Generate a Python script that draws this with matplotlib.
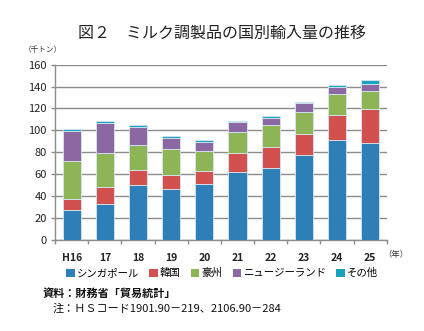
import numpy as np
import matplotlib
matplotlib.use("Agg")
import matplotlib.pyplot as plt
from matplotlib.patches import Patch

plt.rcParams['font.family'] = ['Noto Sans CJK JP', 'DejaVu Sans']

years = ["H16", "17", "18", "19", "20", "21", "22", "23", "24", "25"]
singapore = [27.3, 33.4, 50.1, 46.4, 51.6, 61.9, 66.2, 77.7, 91.7, 88.6]
korea = [10.3, 14.9, 14.3, 13.1, 11.5, 17.6, 18.8, 19.1, 22.4, 31.0]
australia = [34.7, 31.5, 22.1, 23.4, 18.3, 19.5, 19.7, 20.4, 19.2, 16.1]
new_zealand = [27.0, 27.1, 16.4, 10.3, 8.5, 8.5, 7.0, 7.9, 6.3, 6.4]
others = [2.1, 2.1, 2.4, 2.1, 1.5, 1.2, 1.2, 0.6, 1.6, 4.2]

series = [
    ("シンガポール", singapore, "#2E7EB7"),
    ("韓国", korea, "#D2504E"),
    ("豪州", australia, "#8DB555"),
    ("ニュージーランド", new_zealand, "#8C68A3"),
    ("その他", others, "#18A3BD"),
]

fig = plt.figure(figsize=(4.24, 3.31), dpi=100)
ax = fig.add_axes([0.130, 0.274, 0.782, 0.531])

x = np.arange(len(years))
bottom = np.zeros(len(years))
for name, vals, color in series:
    ax.bar(x, vals, bottom=bottom, width=0.55, color=color,
           edgecolor="#D6E6F2", linewidth=0.6, zorder=3)
    bottom += np.array(vals)

ax.set_xlim(-0.5, len(years) - 0.5)
ax.set_ylim(0, 160)
ax.set_yticks(range(0, 161, 20))
ax.grid(axis='y', color="#8C8C8C", linewidth=1.0, zorder=0)

for s in ['top', 'right']:
    ax.spines[s].set_visible(False)
for s in ['left', 'bottom']:
    ax.spines[s].set_color("#8C8C8C")
    ax.spines[s].set_linewidth(1.0)

ax.set_xticks(x)
ax.set_xticklabels(years, fontsize=7.5, fontweight='bold', color="#222222")
ax.tick_params(axis='x', which='major', length=0, pad=9)
ax.set_xticks(np.arange(-0.5, len(years)), minor=True)
ax.tick_params(axis='x', which='minor', length=3, color="#8C8C8C", width=1)
ax.tick_params(axis='y', length=3, color="#8C8C8C", width=1, labelsize=8, pad=3,
               labelcolor="#222222")

fig.text(0.524, 0.898, "図２　ミルク調製品の国別輸入量の推移", ha='center', va='center',
         fontsize=11.5, color="#222222")
fig.text(0.055, 0.848, "（千トン）", ha='left', va='center', fontsize=5.5, color="#333333")
fig.text(0.905, 0.230, "（年）", ha='left', va='center', fontsize=6, color="#333333")

handles = [Patch(facecolor=c, edgecolor='none', label=n) for n, _, c in series]
fig.legend(handles=handles, loc='center', bbox_to_anchor=(0.524, 0.175), ncol=5,
           frameon=False, fontsize=7.5, handlelength=0.8, handleheight=0.8,
           handletextpad=0.2, columnspacing=1.0)

fig.text(0.100, 0.115, "資料：財務省「貿易統計」", ha='left', va='center',
         fontsize=8, fontweight='bold', color="#111111")
fig.text(0.125, 0.068, "注：ＨＳコード1901.90－219、2106.90－284", ha='left', va='center',
         fontsize=8, color="#111111")

fig.savefig("out.png", dpi=100)
